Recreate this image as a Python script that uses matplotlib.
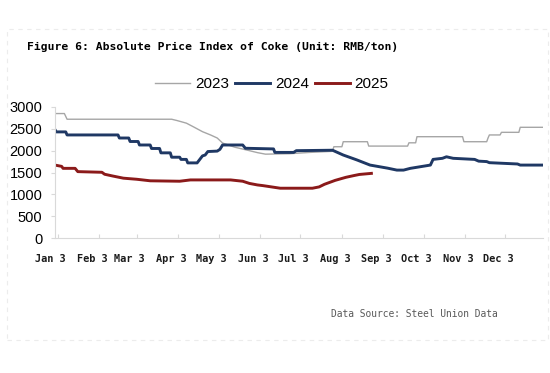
import matplotlib.pyplot as plt
import matplotlib.transforms as mtransforms
from matplotlib.patches import Rectangle

# day index counted from Jan 1 (0) to Dec 31 (364)
days_2023 = [0, 7, 9, 87, 91, 98, 103, 110, 116, 121, 125, 134, 143, 151, 157, 175, 190,
             207, 208, 214, 215, 233, 234, 263, 264, 269, 270, 304, 305, 322, 323, 324,
             332, 333, 346, 347, 364]
vals_2023 = [2850, 2850, 2720, 2720, 2690, 2630, 2550, 2435, 2360, 2290, 2175, 2080, 2015,
             1955, 1920, 1930, 1960, 1985, 2090, 2090, 2205, 2205, 2105, 2105, 2180, 2180,
             2320, 2320, 2205, 2205, 2290, 2360, 2360, 2420, 2420, 2535, 2535]

days_2024 = [0, 1, 8, 9, 47, 48, 55, 56, 62, 63, 71, 72, 78, 79, 86, 87, 93, 94, 98, 99,
             106, 108, 110, 112, 114, 121, 123, 125, 140, 142, 163, 164, 178, 180, 207,
             215, 225, 235, 248, 255, 260, 265, 272, 280, 282, 289, 292, 297, 313, 316,
             322, 324, 345, 347, 364]
vals_2024 = [2480, 2430, 2430, 2360, 2360, 2290, 2290, 2210, 2210, 2130, 2130, 2050, 2050,
             1950, 1950, 1850, 1850, 1800, 1800, 1720, 1720, 1800, 1880, 1900, 1980, 1990,
             2030, 2130, 2130, 2055, 2040, 1960, 1960, 2000, 2010, 1900, 1790, 1670, 1600,
             1555, 1555, 1595, 1630, 1670, 1800, 1825, 1860, 1825, 1800, 1760, 1750, 1725,
             1695, 1670, 1670]

days_2025 = [0, 5, 6, 15, 17, 35, 37, 43, 51, 61, 71, 93, 101, 131, 140, 145, 151, 155,
             168, 192, 197, 201, 209, 217, 223, 227, 236]
vals_2025 = [1670, 1640, 1595, 1595, 1520, 1505, 1460, 1420, 1370, 1345, 1310, 1300, 1330,
             1330, 1300, 1250, 1215, 1200, 1140, 1140, 1170, 1230, 1320, 1390, 1430, 1455,
             1480]

month_days = [2, 33, 61, 92, 122, 153, 183, 214, 245, 275, 306, 336]
month_labels = ['Jan 3', 'Feb 3', 'Mar 3', 'Apr 3', 'May 3', 'Jun 3',
                'Jul 3', 'Aug 3', 'Sep 3', 'Oct 3', 'Nov 3', 'Dec 3']
y_ticks = [0, 500, 1000, 1500, 2000, 2500, 3000]

fig = plt.figure(figsize=(5.5, 3.73), dpi=100)
ax = fig.add_axes([55/550, 1-238/373, 488/550, 131/373])

l23, = ax.plot(days_2023, vals_2023, color='#a6a6a6', lw=1.0, label='2023')
l24, = ax.plot(days_2024, vals_2024, color='#1f3864', lw=2.1, label='2024')
l25, = ax.plot(days_2025, vals_2025, color='#8b1a1a', lw=2.1, label='2025')

ax.set_xlim(0, 364)
ax.set_ylim(0, 3000)
ax.set_yticks(y_ticks)
ax.set_yticklabels([str(v) for v in y_ticks], fontsize=10.5, family='Liberation Sans')
ax.set_xticks(month_days)
ax.set_xticklabels([])

# month labels sit a little left of their ticks, as in the source chart
shift = mtransforms.ScaledTranslation(-7/100, -21/100, fig.dpi_scale_trans)
for d, lab in zip(month_days, month_labels):
    ax.text(d, 0, lab, transform=ax.get_xaxis_transform() + shift, ha='center', va='center',
            fontsize=7.4, family='DejaVu Sans Mono', fontweight='bold', color='#1a1a1a')

for s in ['top', 'right']:
    ax.spines[s].set_visible(False)
for s in ['left', 'bottom']:
    ax.spines[s].set_color('#d9d9d9')
    ax.spines[s].set_linewidth(0.8)
ax.tick_params(axis='y', length=3, color='#d9d9d9', pad=6)
ax.tick_params(axis='x', length=3, color='#d9d9d9', direction='in')

fig.text(27/550, 1-47/373, 'Figure 6: Absolute Price Index of Coke (Unit: RMB/ton)',
         family='DejaVu Sans Mono', fontsize=8.2, fontweight='bold', va='center', ha='left')

fig.legend(handles=[l23, l24, l25], loc='center', bbox_to_anchor=(272/550, 1-84/373),
           ncol=3, frameon=False, prop={'family': 'Liberation Sans', 'size': 11},
           handlelength=2.3, handletextpad=0.3, columnspacing=0.4)

fig.text(498/550, 1-314/373, 'Data Source: Steel Union Data', family='DejaVu Sans Mono',
         fontsize=6.9, color='#595959', ha='right', va='center')

fig.patches.append(Rectangle((7/550, 1-340/373), 541/550, 311/373, transform=fig.transFigure,
                             fill=False, ec='#ececec', lw=0.8, ls=(0, (4, 4))))

fig.savefig('out.png', dpi=100)
